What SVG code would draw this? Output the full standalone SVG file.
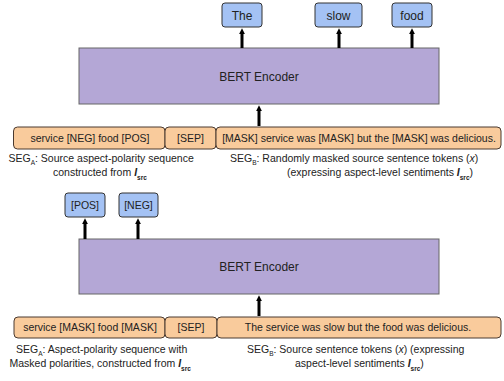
<svg xmlns="http://www.w3.org/2000/svg" width="504" height="381" viewBox="0 0 504 381">
<style>
text{font-family:"Liberation Sans",Arial,sans-serif;fill:#222}
.out rect{fill:#a4c2f4;stroke:#333;stroke-width:1}
.out text{font-size:12px;text-anchor:middle}
.pol text{font-size:10.5px}
.enc rect{fill:#b4a7d6;stroke:#666;stroke-width:1}
.enc text{font-size:12px;text-anchor:middle}
.seg rect{fill:#f9cb9c;stroke:#4a3a30;stroke-width:1}
.seg text{font-size:10.5px;text-anchor:middle}
.lbl{font-size:10.5px}
.sub{font-size:6.5px}
.arr line{stroke:#000;stroke-width:3}
</style>
<defs>
<marker id="ah" viewBox="0 0 10 10" markerWidth="6" markerHeight="6" refX="2" refY="5" orient="auto" markerUnits="userSpaceOnUse">
<path d="M0,0 L10,5 L0,10 z" fill="#000"/>
</marker>
</defs>

<!-- Top section -->
<g id="out-the" class="out"><rect x="222" y="3" width="40" height="24" rx="3"/><text x="242" y="19.5">The</text></g>
<g id="out-slow" class="out"><rect x="315" y="3" width="47" height="24" rx="3"/><text x="338.5" y="19.5">slow</text></g>
<g id="out-food" class="out"><rect x="392" y="3" width="40" height="24" rx="3"/><text x="412" y="19.5">food</text></g>

<g id="enc1" class="enc"><rect x="79" y="48" width="360" height="56"/><text x="259" y="80.5">BERT Encoder</text></g>

<g id="in1-a" class="seg"><rect x="13.5" y="127" width="151.5" height="22" rx="4"/><text x="90" y="141.5">service [NEG] food [POS]</text></g>
<g id="in1-sep" class="seg"><rect x="165" y="127" width="51" height="22" rx="4"/><text x="190.5" y="141.5">[SEP]</text></g>
<g id="in1-b" class="seg"><rect x="216" y="127" width="285" height="22" rx="4"/><text x="359" y="141.5">[MASK] service was [MASK] but the [MASK] was delicious.</text></g>

<g id="lbl1-a">
<text class="lbl" x="8.5" y="162">SEG<tspan class="sub" dy="3">A</tspan><tspan dy="-3">: Source aspect-polarity sequence</tspan></text>
<text class="lbl" x="53" y="176">constructed from <tspan font-weight="bold" font-style="italic">I</tspan><tspan class="sub" font-weight="bold" dy="4">src</tspan></text>
</g>
<g id="lbl1-b">
<text class="lbl" x="230" y="162">SEG<tspan class="sub" dy="3">B</tspan><tspan dy="-3">: Randomly masked source sentence tokens (</tspan><tspan font-style="italic">x</tspan>)</text>
<text class="lbl" x="287" y="176">(expressing aspect-level sentiments <tspan font-weight="bold" font-style="italic">I</tspan><tspan class="sub" font-weight="bold" dy="4">src</tspan><tspan dy="-4">)</tspan></text>
</g>

<!-- Bottom section -->
<g id="out-pos" class="out pol"><rect x="65" y="193" width="40" height="24" rx="3"/><text x="85" y="208.5">[POS]</text></g>
<g id="out-neg" class="out pol"><rect x="119" y="193" width="39" height="24" rx="3"/><text x="138.5" y="208.5">[NEG]</text></g>

<g id="enc2" class="enc"><rect x="79" y="239" width="360" height="55"/><text x="259" y="271">BERT Encoder</text></g>

<g id="in2-a" class="seg"><rect x="14" y="317" width="151" height="21" rx="4"/><text x="90" y="331">service [MASK] food [MASK]</text></g>
<g id="in2-sep" class="seg"><rect x="165" y="317" width="52" height="21" rx="4"/><text x="191" y="331">[SEP]</text></g>
<g id="in2-b" class="seg"><rect x="217" y="317" width="284" height="21" rx="4"/><text x="358" y="331">The service was slow but the food was delicious.</text></g>

<g id="lbl2-a">
<text class="lbl" x="16" y="353">SEG<tspan class="sub" dy="3">A</tspan><tspan dy="-3">: Aspect-polarity sequence with</tspan></text>
<text class="lbl" x="9.5" y="367">Masked polarities, constructed from <tspan font-weight="bold" font-style="italic">I</tspan><tspan class="sub" font-weight="bold" dy="4">src</tspan></text>
</g>
<g id="lbl2-b">
<text class="lbl" x="247" y="353">SEG<tspan class="sub" dy="3">B</tspan><tspan dy="-3">: Source sentence tokens (</tspan><tspan font-style="italic">x</tspan>) (expressing</text>
<text class="lbl" x="295" y="367">aspect-level sentiments <tspan font-weight="bold" font-style="italic">I</tspan><tspan class="sub" font-weight="bold" dy="4">src</tspan><tspan dy="-4">)</tspan></text>
</g>

<g id="connectors" class="arr">
<line x1="242" y1="48" x2="242" y2="33" marker-end="url(#ah)"/>
<line x1="339" y1="48" x2="339" y2="33" marker-end="url(#ah)"/>
<line x1="412" y1="48" x2="412" y2="33" marker-end="url(#ah)"/>
<line x1="259" y1="126" x2="259" y2="110" marker-end="url(#ah)"/>
<line x1="85" y1="239" x2="85" y2="223" marker-end="url(#ah)"/>
<line x1="138" y1="239" x2="138" y2="223" marker-end="url(#ah)"/>
<line x1="259" y1="316" x2="259" y2="300" marker-end="url(#ah)"/>
</g>
</svg>
